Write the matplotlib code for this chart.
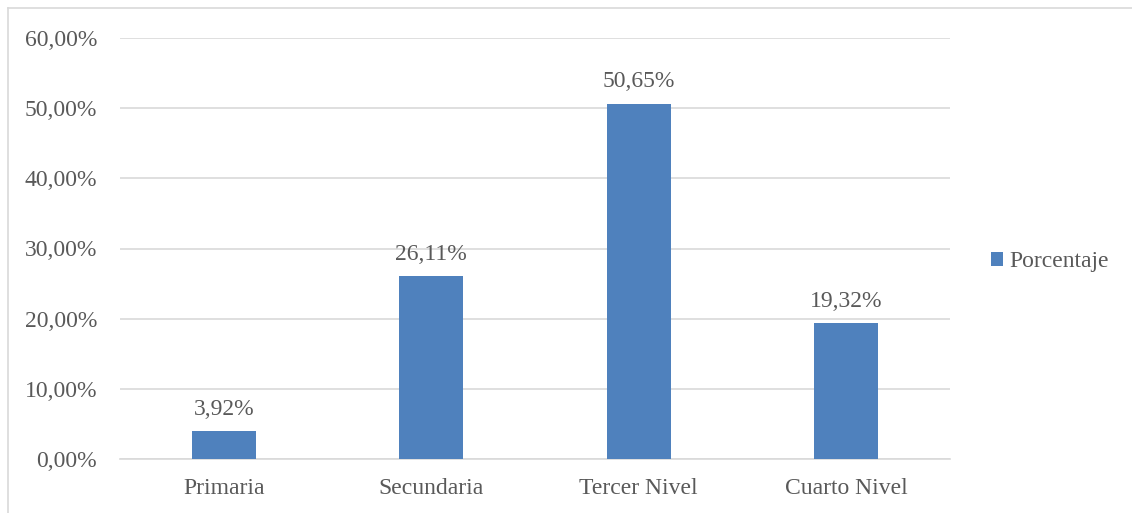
import matplotlib
matplotlib.use("Agg")
import matplotlib.pyplot as plt
from matplotlib.lines import Line2D
from matplotlib.patches import Patch
from matplotlib.ticker import FuncFormatter

categories = ["Primaria", "Secundaria", "Tercer Nivel", "Cuarto Nivel"]
values = [3.92, 26.11, 50.65, 19.32]
series_name = "Porcentaje"

W, H = 1132, 513
fig = plt.figure(figsize=(W / 100, H / 100), dpi=100)
plt.rcParams['font.family'] = ['Liberation Serif', 'DejaVu Serif']

ax = fig.add_axes([120 / W, (H - 459) / H, (950 - 120) / W, (459 - 38) / H])
bar_color = "#4F81BD"
text_color = "#595959"
grid_color = "#D9D9D9"
fs = 17

x = list(range(len(categories)))
bars = ax.bar(x, values, width=0.31, color=bar_color, zorder=3)
ax.set_xlim(-0.5, len(categories) - 0.5)
ax.set_ylim(0, 60)
ax.set_yticks(range(0, 61, 10))
ax.yaxis.set_major_formatter(FuncFormatter(lambda v, p: f"{v:.2f}%".replace(".", ",")))
ax.set_xticks(x)
ax.set_xticklabels(categories)
ax.tick_params(axis="both", length=0, labelsize=fs, labelcolor=text_color)
ax.tick_params(axis="y", pad=16.5)
ax.tick_params(axis="x", pad=14)
ax.grid(axis="y", color=grid_color, linewidth=1.2, zorder=0)
for s in ["top", "right", "left"]:
    ax.spines[s].set_visible(False)
ax.spines["bottom"].set_color(grid_color)
ax.spines["bottom"].set_linewidth(1.2)

for xi, v in zip(x, values):
    ax.annotate(f"{v:.2f}%".replace(".", ","), (xi, v), xytext=(0, 8),
                textcoords="offset points", ha="center", va="bottom",
                fontsize=fs, color=text_color)

handle = Patch(facecolor=bar_color, edgecolor="none")
fig.legend([handle], [series_name], loc="center left",
           bbox_to_anchor=(970 / W, (H - 262) / H), frameon=False,
           fontsize=fs, labelcolor=text_color, handlelength=0.5,
           handleheight=0.5, handletextpad=0.25)

# outer frame (top and left edges visible)
fig.add_artist(Line2D([8 / W, 1.0], [1 - 8 / H, 1 - 8 / H], color="#D9D9D9", linewidth=1.2))
fig.add_artist(Line2D([8 / W, 8 / W], [0, 1 - 8 / H], color="#D9D9D9", linewidth=1.2))

fig.savefig("out.png", dpi=100)
